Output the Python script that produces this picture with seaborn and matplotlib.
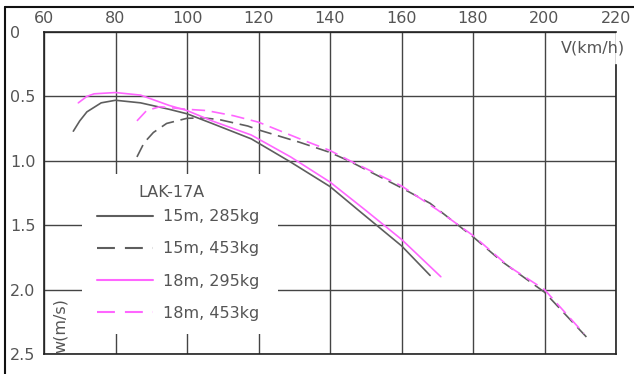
import matplotlib
matplotlib.use("Agg")
import matplotlib.pyplot as plt
from matplotlib.lines import Line2D
from matplotlib.patches import Rectangle
import seaborn as sns
import pandas as pd

# ---- data ----
v_15_285 = [68.2, 70, 72, 76, 80, 87, 95, 100, 107, 118, 129, 140, 148, 160, 168]
w_15_285 = [0.77, 0.69, 0.62, 0.55, 0.53, 0.55, 0.60, 0.635, 0.71, 0.83, 1.01, 1.20, 1.385, 1.66, 1.89]

v_15_453 = [86, 88, 90.6, 94.3, 100, 104.6, 109, 117, 120, 131.6, 140, 145.6, 160, 168, 180, 188, 200, 212.3]
w_15_453 = [0.97, 0.86, 0.78, 0.71, 0.67, 0.667, 0.68, 0.73, 0.76, 0.857, 0.935, 1.005, 1.21, 1.33, 1.59, 1.78, 2.02, 2.385]

v_18_295 = [69.6, 72, 74, 80, 87, 95, 100, 107, 118, 129, 140, 150, 160, 171]
w_18_295 = [0.55, 0.50, 0.48, 0.47, 0.49, 0.57, 0.61, 0.69, 0.80, 0.97, 1.165, 1.385, 1.61, 1.90]

v_18_453 = [86, 88.7, 92.4, 100, 105.5, 113, 120, 131.6, 140, 145.6, 160, 170, 180, 190, 200, 211]
w_18_453 = [0.69, 0.61, 0.58, 0.60, 0.61, 0.65, 0.70, 0.83, 0.92, 1.00, 1.195, 1.38, 1.58, 1.82, 2.0, 2.34]

legend_title = "LAK-17A"
series_labels = ["15m, 285kg", "15m, 453kg", "18m, 295kg", "18m, 453kg"]
x_ticks = [60, 80, 100, 120, 140, 160, 180, 200, 220]
y_ticks = [0, 0.5, 1.0, 1.5, 2.0, 2.5]
y_tick_labels = ["0", "0.5", "1.0", "1.5", "2.0", "2.5"]

sns.set_theme(style="white")
plt.rcParams["font.family"] = ["DejaVu Sans"]

GRAY = "#5e5e5e"
MAG = "#ff66ff"
TXT = "#555555"
FS = 11.5

W, H = 634, 374
fig = plt.figure(figsize=(W / 100, H / 100), dpi=100)
ax = fig.add_axes([44 / W, 1 - 354 / H, (616 - 44) / W, (354 - 32) / H])

specs = [
    (v_15_285, w_15_285, GRAY, "-"),
    (v_15_453, w_15_453, GRAY, (0, (8, 4))),
    (v_18_295, w_18_295, MAG, "-"),
    (v_18_453, w_18_453, MAG, (0, (8, 4))),
]
for (vx, wy, col, ls), lab in zip(specs, series_labels):
    df = pd.DataFrame({"V": vx, "w": wy})
    sns.lineplot(data=df, x="V", y="w", ax=ax, color=col, linestyle=ls,
                 linewidth=1.2, label=lab, zorder=3)

ax.set_xlim(60, 220)
ax.set_ylim(2.5, 0)
ax.xaxis.tick_top()
ax.set_xticks(x_ticks)
ax.set_xticklabels([str(t) for t in x_ticks])
ax.set_yticks(y_ticks)
ax.set_yticklabels(y_tick_labels)
ax.set_xlabel("")
ax.set_ylabel("")
ax.tick_params(axis="x", length=0, pad=4.0, labelsize=FS, labelcolor=TXT)
ax.tick_params(axis="y", length=0, pad=24.5, labelsize=FS, labelcolor=TXT)
for lbl in ax.get_yticklabels():
    lbl.set_horizontalalignment("left")

ax.grid(True, color="#444444", linewidth=1.0)
ax.set_axisbelow(True)

for s in ["left", "top", "bottom", "right"]:
    ax.spines[s].set_color("#222222")
    ax.spines[s].set_linewidth(1.2)
    ax.spines[s].set_visible(True)
ax.spines["right"].set_bounds(0.26, 2.5)

ax.text(222.4, 0.125, "V(km/h)", ha="right", va="center", fontsize=FS, color=TXT)
ax.text(64.5, 2.28, "w(m/s)", ha="center", va="center", rotation=90, fontsize=FS, color=TXT)

# white background block of the legend (interrupts the grid)
ax.add_patch(Rectangle((82 / W, 1 - 334 / H), 196 / W, 160 / H, transform=fig.transFigure,
                       facecolor="white", edgecolor="none", zorder=2))
ax.text(172 / W, 1 - 193 / H, legend_title, transform=fig.transFigure, ha="center",
        va="center", fontsize=FS, color=TXT, zorder=5)

leg = ax.legend(loc="center left",
                bbox_to_anchor=(97 / W, 1 - 265 / H), bbox_transform=fig.transFigure,
                frameon=False, fontsize=FS, handlelength=3.5, handletextpad=0.62,
                labelspacing=1.07, borderpad=0, borderaxespad=0)
for t in leg.get_texts():
    t.set_color(TXT)
for i, ln in enumerate(leg.get_lines()):
    ln.set_linewidth(1.5)
    if i in (1, 3):
        ln.set_dashes((8.6, 4.8))
leg.set_zorder(5)

# outer frame lines
fig.add_artist(Line2D([5 / W, 5 / W], [0, 1 - 7 / H], transform=fig.transFigure,
                      color="#111111", linewidth=1.5))
fig.add_artist(Line2D([5 / W, 1], [1 - 7 / H, 1 - 7 / H], transform=fig.transFigure,
                      color="#111111", linewidth=1.5))

fig.savefig("out.png", dpi=100)
